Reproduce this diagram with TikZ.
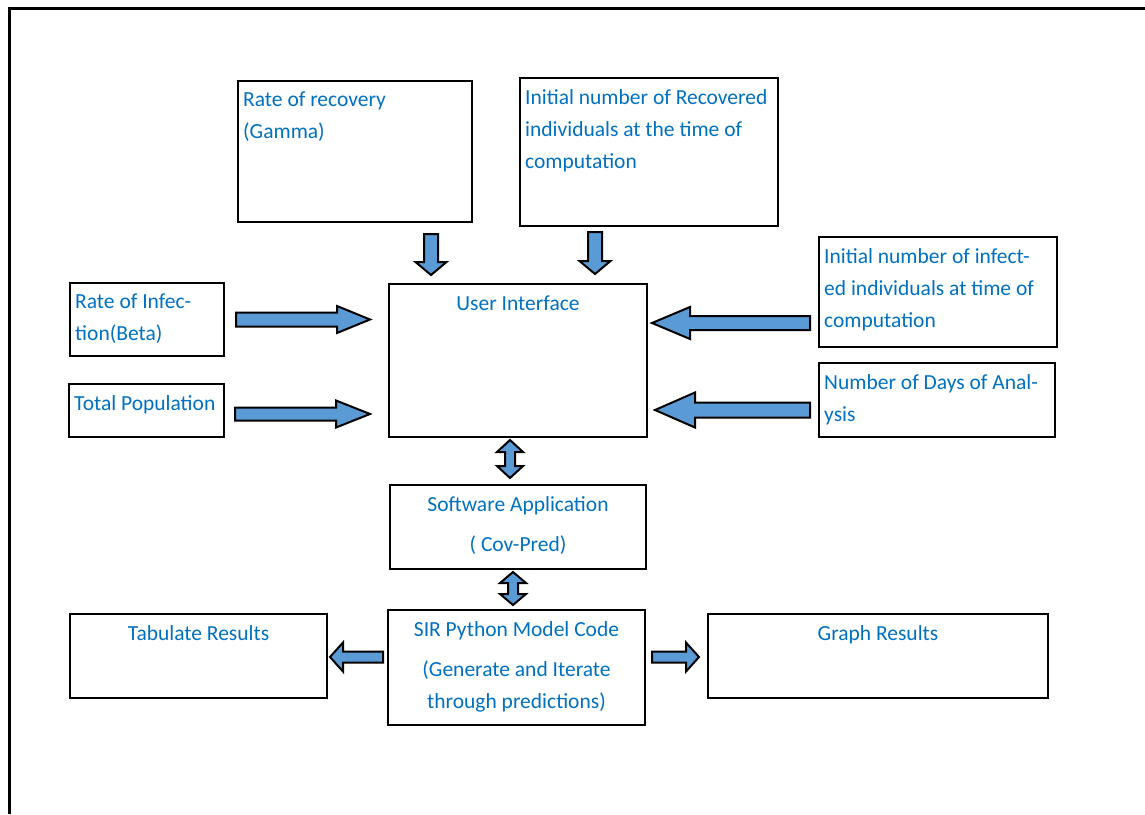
\documentclass[tikz,border=0pt]{standalone}
\usepackage{fontspec}
\setmainfont{Carlito}
\usetikzlibrary{calc,positioning}
\definecolor{txtblue}{HTML}{0070C0}
\definecolor{arrblue}{HTML}{5B9BD5}

% block arrow: tail, tip, shaft half width, head half width, head length
\newcommand{\blockarrow}[5]{%
  \coordinate (ba-b) at ($(#2)!#5!(#1)$);
  \draw[blockarr] ($(#1)!#3!90:(#2)$) -- ($(ba-b)!#3!90:(#2)$) -- ($(ba-b)!#4!90:(#2)$) -- (#2)
    -- ($(ba-b)!#4!-90:(#2)$) -- ($(ba-b)!#3!-90:(#2)$) -- ($(#1)!#3!-90:(#2)$) -- cycle;
}
% two headed block arrow: end, end, shaft half width, head half width, head length
\newcommand{\dblarrow}[5]{%
  \coordinate (da-a) at ($(#1)!#5!(#2)$);
  \coordinate (da-b) at ($(#2)!#5!(#1)$);
  \draw[blockarr] (#1) -- ($(da-a)!#4!90:(#2)$) -- ($(da-a)!#3!90:(#2)$) -- ($(da-b)!#3!90:(#2)$)
    -- ($(da-b)!#4!90:(#2)$) -- (#2) -- ($(da-b)!#4!-90:(#2)$) -- ($(da-b)!#3!-90:(#2)$)
    -- ($(da-a)!#3!-90:(#2)$) -- ($(da-a)!#4!-90:(#2)$) -- cycle;
}

\begin{document}
\begin{tikzpicture}[x=1pt,y=-1pt,
box/.style={draw,rectangle,line width=2.4pt,inner sep=0pt,outer sep=0pt},
lbl/.style={font=\fontsize{21.5}{32}\selectfont,text=txtblue,inner xsep=5pt,inner ysep=11pt,
    execute at begin node={\rule{0pt}{15pt}}},
blockarr/.style={draw,fill=arrblue,line width=2pt,line join=miter},
frame/.style={line width=3pt}]
\useasboundingbox (0,0) rectangle (1145,814);
\draw[frame] (9,814) -- (9,8) -- (1145,8);

% inputs
\node (gamma) [box,anchor=north west,minimum width=234pt,minimum height=141pt,
    label={[lbl,anchor=north west,align=left]north west:{Rate of recovery\\(Gamma)}}] at (238,81) {};
\node (recov) [box,anchor=north west,minimum width=258pt,minimum height=148pt,
    label={[lbl,anchor=north west,align=left]north west:{Initial number of Recovered\\individuals at the time of\\computation}}] at (520,78) {};
\node (infect) [box,anchor=north west,minimum width=238pt,minimum height=110pt,
    label={[lbl,anchor=north west,align=left]north west:{Initial number of  infect-\\ed individuals at time of\\computation}}] at (819,237) {};
\node (days) [box,anchor=north west,minimum width=236pt,minimum height=74pt,
    label={[lbl,anchor=north west,align=left]north west:{Number of Days of Anal-\\ysis}}] at (819,363) {};
\node (beta) [box,anchor=north west,minimum width=154pt,minimum height=73pt,
    label={[lbl,anchor=north west,align=left]north west:{Rate of Infec-\\tion(Beta)}}] at (70,283) {};
\node (total) [box,anchor=north west,minimum width=155pt,minimum height=53pt,
    label={[lbl,anchor=north west,align=left]north west:{Total Population}}] at (69,384) {};

% centre column
\node (ui) [box,anchor=north west,minimum width=258pt,minimum height=153pt,
    label={[lbl,anchor=north,align=center]north:{User Interface}}] at (389,284) {};
\node (sw) [box,below=48pt of ui,minimum width=256pt,minimum height=84pt,
    label={[lbl,anchor=north,align=center]north:{Software Application\\[8pt]( Cov-Pred)}}] {};
\node (sir) [box,below=41pt of sw,xshift=-1.5pt,minimum width=257pt,minimum height=115pt,
    label={[lbl,anchor=north,align=center]north:{SIR Python Model Code\\[8pt](Generate and Iterate\\through predictions)}}] {};

% outputs
\node (tab) [box,anchor=north west,minimum width=257pt,minimum height=84pt,
    label={[lbl,anchor=north,align=center]north:{Tabulate Results}}] at (70,614) {};
\node (graph) [box,anchor=north west,minimum width=340pt,minimum height=84pt,
    label={[lbl,anchor=north,align=center]north:{Graph Results}}] at (708,614) {};

% arrow ends
\coordinate (beta-t) at ([xshift=12pt]beta.east);
\coordinate (beta-h) at ([xshift=-19pt]ui.west |- beta-t);
\coordinate (total-t) at ([xshift=11pt,yshift=-3.5pt]total.east);
\coordinate (total-h) at ([xshift=-19pt]ui.west |- total-t);
\coordinate (infect-t) at ([xshift=-9pt,yshift=-31pt]infect.west);
\coordinate (infect-h) at ([xshift=5pt]ui.east |- infect-t);
\coordinate (days-t) at ([xshift=-9pt,yshift=-10pt]days.west);
\coordinate (days-h) at ([xshift=8pt]ui.east |- days-t);
\coordinate (gamma-t) at ([xshift=76pt,yshift=-12pt]gamma.south);
\coordinate (gamma-h) at ([yshift=9pt]ui.north -| gamma-t);
\coordinate (recov-t) at ([xshift=-54pt,yshift=-6pt]recov.south);
\coordinate (recov-h) at ([yshift=10pt]ui.north -| recov-t);
\coordinate (ui-s) at ([xshift=-8pt,yshift=-3pt]ui.south);
\coordinate (sw-n) at ([yshift=7pt]sw.north -| ui-s);
\coordinate (sw-s) at ([xshift=-5pt,yshift=-3pt]sw.south);
\coordinate (sir-n) at ([yshift=5pt]sir.north -| sw-s);
\coordinate (tab-t) at ([xshift=-5pt,yshift=10.5pt]sir.west);
\coordinate (tab-h) at ([xshift=3pt]tab.east |- tab-t);
\coordinate (graph-t) at ([xshift=7pt]sir.east |- tab-t);
\coordinate (graph-h) at ([xshift=-9pt]graph.west |- tab-t);

\blockarrow{beta-t}{beta-h}{7pt}{13.5pt}{33pt}
\blockarrow{total-t}{total-h}{6.5pt}{13.5pt}{34pt}
\blockarrow{infect-t}{infect-h}{7pt}{16pt}{38pt}
\blockarrow{days-t}{days-h}{7.5pt}{17.5pt}{40pt}
\blockarrow{gamma-t}{gamma-h}{7pt}{15.5pt}{13pt}
\blockarrow{recov-t}{recov-h}{7pt}{15.5pt}{13pt}
\dblarrow{ui-s}{sw-n}{5pt}{13pt}{12pt}
\dblarrow{sw-s}{sir-n}{5pt}{13pt}{11pt}
\blockarrow{tab-t}{tab-h}{5.5pt}{14.5pt}{13pt}
\blockarrow{graph-t}{graph-h}{5.5pt}{14.5pt}{13pt}
\end{tikzpicture}
\end{document}
